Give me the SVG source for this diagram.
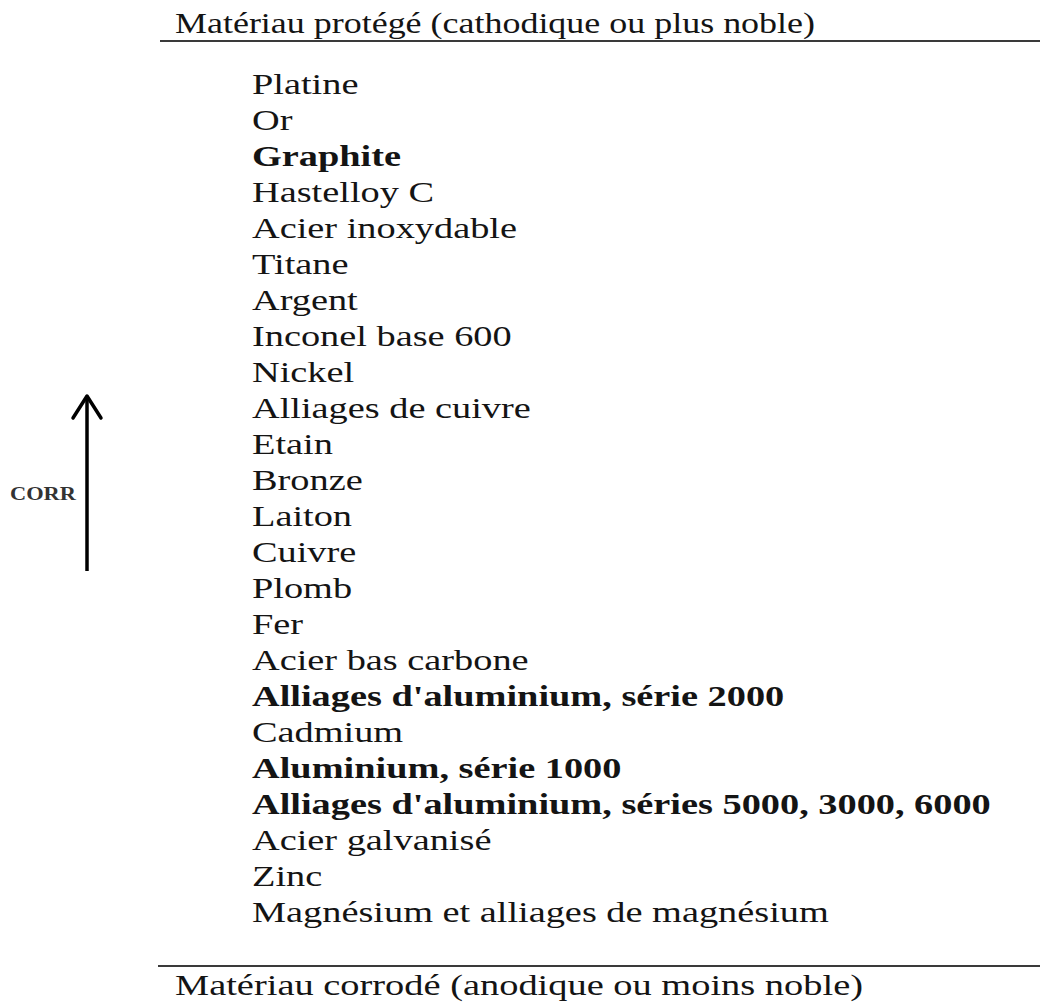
<svg xmlns="http://www.w3.org/2000/svg" width="1040" height="1004" viewBox="0 0 1040 1004">
<style>
text{font-family:"Liberation Serif","Times New Roman",serif;font-size:30px;fill:#141414}
.b{font-weight:bold}
.s{font-size:19px;font-weight:bold;fill:#333}
.rule{stroke:#3a3a3a;stroke-width:2}
</style>
<rect width="1040" height="1004" fill="#fff"/>
<g id="header-top"><text x="175" y="33" textLength="640" lengthAdjust="spacingAndGlyphs">Matériau protégé (cathodique ou plus noble)</text>
<line class="rule" x1="160" y1="41" x2="1040" y2="41"/></g>
<g id="list" transform="translate(252,0) scale(1.278,1)">
<text x="0" y="94">Platine</text>
<text x="0" y="130">Or</text>
<text x="0" y="166" class="b">Graphite</text>
<text x="0" y="202">Hastelloy C</text>
<text x="0" y="238">Acier inoxydable</text>
<text x="0" y="274">Titane</text>
<text x="0" y="310">Argent</text>
<text x="0" y="346">Inconel base 600</text>
<text x="0" y="382">Nickel</text>
<text x="0" y="418">Alliages de cuivre</text>
<text x="0" y="454">Etain</text>
<text x="0" y="490">Bronze</text>
<text x="0" y="526">Laiton</text>
<text x="0" y="562">Cuivre</text>
<text x="0" y="598">Plomb</text>
<text x="0" y="634">Fer</text>
<text x="0" y="670">Acier bas carbone</text>
<text x="0" y="706" class="b">Alliages d'aluminium, série 2000</text>
<text x="0" y="742">Cadmium</text>
<text x="0" y="778" class="b">Aluminium, série 1000</text>
<text x="0" y="814" class="b">Alliages d'aluminium, séries 5000, 3000, 6000</text>
<text x="0" y="850">Acier galvanisé</text>
<text x="0" y="886">Zinc</text>
<text x="0" y="922">Magnésium et alliages de magnésium</text>
</g>
<g id="arrow">
<line x1="87" y1="397" x2="87" y2="571" stroke="#000" stroke-width="3.5"/>
<polyline points="73,418 87,396 101,418" fill="none" stroke="#000" stroke-width="3.5" stroke-linecap="round" stroke-linejoin="round"/>
<text x="10" y="500" class="s" textLength="66" lengthAdjust="spacingAndGlyphs">CORR</text>
</g>
<g id="header-bottom">
<line class="rule" x1="158" y1="966" x2="1040" y2="966"/>
<text x="175" y="995" font-size="27" textLength="688" lengthAdjust="spacingAndGlyphs">Matériau corrodé (anodique ou moins noble)</text></g>
</svg>
